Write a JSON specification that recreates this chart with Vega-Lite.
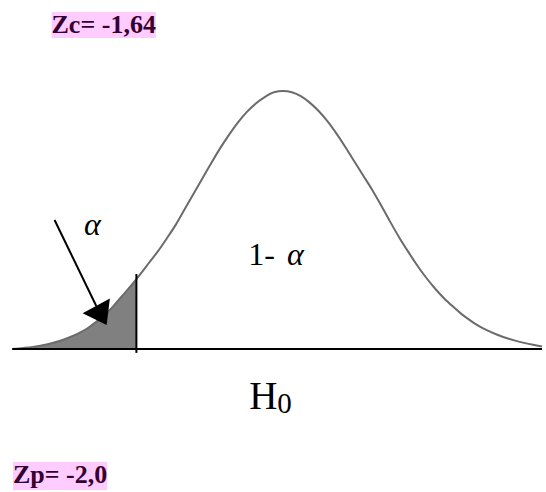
{
  "$schema": "https://vega.github.io/schema/vega-lite/v6.json",
  "width": 546,
  "height": 492,
  "autosize": {"type": "fit", "contains": "padding"},
  "padding": 0,
  "background": "white",
  "config": {"view": {"stroke": null}},
  "datasets": {
    "curve": [
      {"z": -3.03, "d": 0.0}, {"z": -2.9, "d": 0.0017}, {"z": -2.8, "d": 0.0033}, {"z": -2.7, "d": 0.0055},
      {"z": -2.6, "d": 0.0085}, {"z": -2.5, "d": 0.0125}, {"z": -2.4, "d": 0.0175}, {"z": -2.3, "d": 0.0235},
      {"z": -2.2, "d": 0.031}, {"z": -2.1, "d": 0.041}, {"z": -2.0, "d": 0.052}, {"z": -1.9, "d": 0.066},
      {"z": -1.8, "d": 0.082}, {"z": -1.7, "d": 0.098}, {"z": -1.64, "d": 0.108}, {"z": -1.6, "d": 0.115},
      {"z": -1.5, "d": 0.133}, {"z": -1.4, "d": 0.151}, {"z": -1.3, "d": 0.171}, {"z": -1.2, "d": 0.192},
      {"z": -1.1, "d": 0.216}, {"z": -1.0, "d": 0.240}, {"z": -0.9, "d": 0.264}, {"z": -0.8, "d": 0.288},
      {"z": -0.7, "d": 0.311}, {"z": -0.6, "d": 0.332}, {"z": -0.5, "d": 0.351}, {"z": -0.4, "d": 0.367},
      {"z": -0.3, "d": 0.380}, {"z": -0.2, "d": 0.390}, {"z": -0.1, "d": 0.397}, {"z": 0.0, "d": 0.399},
      {"z": 0.1, "d": 0.397}, {"z": 0.2, "d": 0.391}, {"z": 0.3, "d": 0.381}, {"z": 0.4, "d": 0.368},
      {"z": 0.5, "d": 0.352}, {"z": 0.6, "d": 0.333}, {"z": 0.7, "d": 0.312}, {"z": 0.8, "d": 0.290},
      {"z": 0.9, "d": 0.268}, {"z": 1.0, "d": 0.246}, {"z": 1.1, "d": 0.222}, {"z": 1.2, "d": 0.197},
      {"z": 1.3, "d": 0.173}, {"z": 1.4, "d": 0.151}, {"z": 1.5, "d": 0.130}, {"z": 1.6, "d": 0.111},
      {"z": 1.7, "d": 0.094}, {"z": 1.8, "d": 0.079}, {"z": 1.9, "d": 0.066}, {"z": 2.0, "d": 0.054},
      {"z": 2.1, "d": 0.044}, {"z": 2.2, "d": 0.035}, {"z": 2.3, "d": 0.028}, {"z": 2.4, "d": 0.022},
      {"z": 2.5, "d": 0.017}, {"z": 2.6, "d": 0.013}, {"z": 2.7, "d": 0.0095}, {"z": 2.8, "d": 0.0065},
      {"z": 2.9, "d": 0.004}
    ],
    "tail": [
      {"z": -2.8, "d": 0.0033}, {"z": -2.7, "d": 0.0055}, {"z": -2.6, "d": 0.0085}, {"z": -2.5, "d": 0.0125},
      {"z": -2.4, "d": 0.0175}, {"z": -2.3, "d": 0.0235}, {"z": -2.2, "d": 0.031}, {"z": -2.1, "d": 0.041},
      {"z": -2.0, "d": 0.052}, {"z": -1.9, "d": 0.066}, {"z": -1.8, "d": 0.082}, {"z": -1.7, "d": 0.098},
      {"z": -1.64, "d": 0.108}
    ],
    "rules": [
      {"part": "baseline", "z": -3.03, "d": 0.0, "z2": 2.9, "d2": 0.0},
      {"part": "critical", "z": -1.64, "d": 0.116, "z2": -1.64, "d2": -0.006},
      {"part": "arrow", "z": -2.556, "d": 0.1995, "z2": -2.089, "d2": 0.0665}
    ],
    "head": [{"z": -2.056, "d": 0.0582}],
    "boxes": [
      {"label": "Zc", "z": -2.589, "z2": -1.422, "d": 0.481, "d2": 0.5212},
      {"label": "Zp", "z": -3.022, "z2": -1.967, "d": -0.2181, "d2": -0.1748}
    ],
    "boxlabels": [
      {"text": "Zc= -1,64", "z": -2.006, "d": 0.4887},
      {"text": "Zp= -2,0", "z": -2.494, "d": -0.2072}
    ],
    "texts": [
      {"role": "one", "text": "1-", "z": -0.389, "d": 0.1299},
      {"role": "alpha", "text": "α", "z": 0.139, "d": 0.1299},
      {"role": "alpha", "text": "α", "z": -2.133, "d": 0.1763},
      {"role": "H", "text": "H", "z": -0.378, "d": -0.0928},
      {"role": "sub", "text": "0", "z": 0.0167, "d": -0.099}
    ]
  },
  "encoding": {
    "x": {"field": "z", "type": "quantitative", "scale": {"domain": [-3.1667, 2.9], "nice": false, "zero": false}, "axis": null},
    "y": {"field": "d", "type": "quantitative", "scale": {"domain": [-0.2211, 0.5397], "nice": false, "zero": false}, "axis": null}
  },
  "layer": [
    {
      "data": {"name": "tail"},
      "mark": {"type": "area", "color": "#808080", "interpolate": "monotone"},
      "encoding": {"y2": {"datum": 0}}
    },
    {
      "data": {"name": "curve"},
      "mark": {"type": "line", "color": "#6b6b6b", "strokeWidth": 2, "interpolate": "monotone"}
    },
    {
      "data": {"name": "rules"},
      "mark": {"type": "rule", "color": "black", "strokeWidth": 2},
      "encoding": {"x2": {"field": "z2"}, "y2": {"field": "d2"}}
    },
    {
      "data": {"name": "head"},
      "mark": {"type": "point", "shape": "M0,-1L1,0.4L-1,0.4Z", "filled": true, "color": "black", "opacity": 1, "size": 961, "angle": 151.5, "strokeWidth": 0}
    },
    {
      "data": {"name": "boxes"},
      "mark": {"type": "rect", "color": "#ffccff"},
      "encoding": {"x2": {"field": "z2"}, "y2": {"field": "d2"}}
    },
    {
      "data": {"name": "boxlabels"},
      "mark": {"type": "text", "font": "Liberation Serif", "fontWeight": "bold", "fontSize": 26, "color": "#330033", "align": "center", "baseline": "alphabetic"},
      "encoding": {"text": {"field": "text"}}
    },
    {
      "data": {"name": "texts"},
      "transform": [{"filter": "datum.role === 'one'"}],
      "mark": {"type": "text", "font": "Liberation Serif", "fontSize": 32, "color": "black", "align": "left", "baseline": "alphabetic"},
      "encoding": {"text": {"field": "text"}}
    },
    {
      "data": {"name": "texts"},
      "transform": [{"filter": "datum.role === 'alpha'"}],
      "mark": {"type": "text", "font": "Liberation Serif", "fontStyle": "italic", "fontSize": 32, "color": "black", "align": "center", "baseline": "alphabetic"},
      "encoding": {"text": {"field": "text"}}
    },
    {
      "data": {"name": "texts"},
      "transform": [{"filter": "datum.role === 'H'"}],
      "mark": {"type": "text", "font": "Liberation Serif", "fontSize": 39, "color": "black", "align": "left", "baseline": "alphabetic"},
      "encoding": {"text": {"field": "text"}}
    },
    {
      "data": {"name": "texts"},
      "transform": [{"filter": "datum.role === 'sub'"}],
      "mark": {"type": "text", "font": "Liberation Serif", "fontSize": 29, "color": "black", "align": "center", "baseline": "alphabetic"},
      "encoding": {"text": {"field": "text"}}
    }
  ]
}
